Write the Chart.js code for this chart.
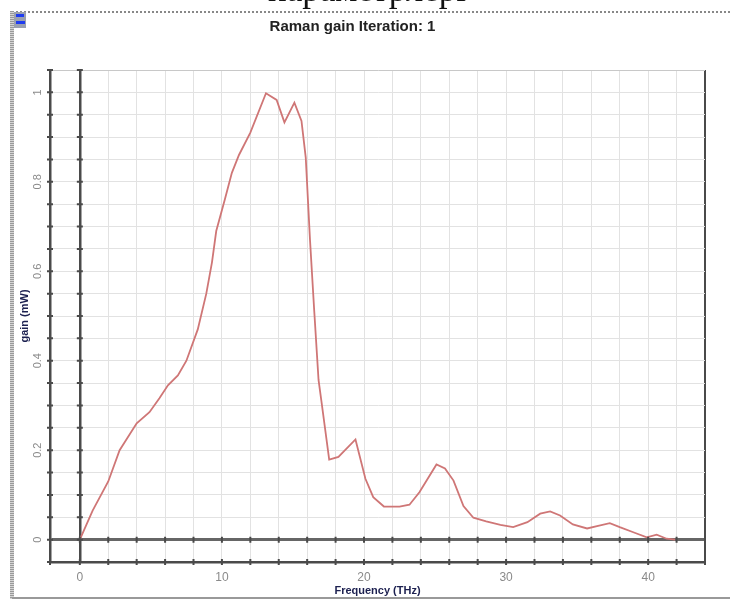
<!DOCTYPE html>
<html lang="en">
<head>
    <meta charset="UTF-8">
    <title>Raman gain</title>
    <script src="https://cdn.jsdelivr.net/npm/chart.js"></script>
    <style>
        body {
          margin: 0;
          background: #fff;
          font-family: Arial, "Liberation Sans", sans-serif;
        }
        .page {
          position: relative;
          width: 730px;
          height: 599px;
          overflow: hidden;
        }
        .chartBox {
          position: absolute;
          left: 0;
          top: 0;
          width: 730px;
          height: 599px;
        }
        /* cut-off caption above the screenshot */
        .caption {
          position: absolute;
          top: -30px;
          left: 268px;
          font-family: "Liberation Serif", "DejaVu Serif", serif;
          font-size: 35px;
          color: #111;
          white-space: nowrap;
        }
        .frameTop {
          position: absolute;
          left: 12px;
          top: 11px;
          width: 718px;
          height: 0;
          border-top: 2px dotted #888;
        }
        .frameLeft {
          position: absolute;
          left: 10px;
          top: 11px;
          width: 4px;
          height: 588px;
          background: repeating-linear-gradient(#999 0 1px, #d4d4d4 1px 2px);
        }
        .frameBottom {
          position: absolute;
          left: 12px;
          top: 597px;
          width: 718px;
          height: 2px;
          background: #999;
        }
        .icon {
          position: absolute;
          left: 14px;
          top: 12px;
          width: 12px;
          height: 16px;
          background: #9aa0b0;
        }
        .icon i {
          position: absolute;
          left: 2px;
          width: 8px;
          height: 3px;
          background: #1f3cf0;
        }
    </style>
</head>
<body>
<div class="page">
    <div class="chartBox"><canvas id="myChart"></canvas></div>
    <div class="caption">параметрлері</div>
    <div class="frameTop"></div>
    <div class="frameLeft"></div>
    <div class="frameBottom"></div>
    <div class="icon"><i style="top:2px"></i><i style="top:9px;width:9px"></i></div>
</div>

<script>
    // values
    const freq = [0, 0.9, 2.0, 2.8, 4.0, 4.9, 5.6, 6.2, 6.9, 7.5, 8.3, 8.9, 9.3, 9.6, 10.2, 10.7, 11.2, 12.0, 13.1, 13.85, 14.4, 15.1, 15.6, 15.9, 16.2, 16.5, 16.8, 17.0, 17.55, 18.2, 19.4, 20.1, 20.65, 21.4, 22.5, 23.2, 23.9, 25.1, 25.7, 26.3, 27.0, 27.7, 28.6, 29.6, 30.5, 31.5, 32.4, 33.1, 33.8, 34.7, 35.7, 36.4, 37.3, 38.0, 39.0, 39.9, 40.6, 41.3, 41.9];
    const gain = [0, 0.065, 0.13, 0.20, 0.26, 0.285, 0.316, 0.345, 0.367, 0.40, 0.47, 0.55, 0.62, 0.69, 0.76, 0.82, 0.86, 0.91, 0.998, 0.983, 0.933, 0.977, 0.936, 0.854, 0.67, 0.51, 0.357, 0.31, 0.179, 0.185, 0.224, 0.136, 0.095, 0.074, 0.074, 0.078, 0.106, 0.168, 0.159, 0.132, 0.075, 0.049, 0.041, 0.033, 0.028, 0.039, 0.058, 0.063, 0.054, 0.034, 0.025, 0.030, 0.037, 0.028, 0.016, 0.005, 0.011, 0.002, 0.0];

    const xLabels = [0, 10, 20, 30, 40];
    const yLabels = [0, 0.2, 0.4, 0.6, 0.8, 1];

    const points = freq.map((f, i) => ({ x: f, y: gain[i] }));

    const near = (a, b) => Math.abs(a - b) < 1e-6;
    const dark = '#4a4a4a';

    // small cross marks on the frame and on the zero lines
    const tickMarks = {
        id: 'tickMarks',
        afterDatasetsDraw(chart) {
            const { ctx, chartArea, scales } = chart;
            const x0 = scales.x.getPixelForValue(0);
            const y0 = scales.y.getPixelForValue(0);
            ctx.save();
            ctx.strokeStyle = dark;
            ctx.lineWidth = 2;
            ctx.beginPath();
            scales.x.ticks.forEach(t => {
                const px = scales.x.getPixelForValue(t.value);
                ctx.moveTo(px, chartArea.bottom - 3); ctx.lineTo(px, chartArea.bottom + 3);
                ctx.moveTo(px, y0 - 3); ctx.lineTo(px, y0 + 3);
            });
            scales.y.ticks.forEach(t => {
                const py = scales.y.getPixelForValue(t.value);
                ctx.moveTo(chartArea.left - 3, py); ctx.lineTo(chartArea.left + 3, py);
                ctx.moveTo(x0 - 3, py); ctx.lineTo(x0 + 3, py);
            });
            ctx.stroke();
            ctx.restore();
        }
    };

    const ctx = document.getElementById('myChart').getContext('2d');
    const myChart = new Chart(ctx, {
        type: 'scatter',
        data: {
            datasets: [{
                label: 'gain',
                data: points,
                showLine: true,
                borderColor: '#cf7676',
                borderWidth: 1.8,
                pointRadius: 0,
                tension: 0
            }]
        },
        options: {
            responsive: true,
            maintainAspectRatio: false,
            animation: false,
            layout: { padding: { left: 0, right: 25, top: 0, bottom: 0 } },
            plugins: {
                legend: { display: false },
                tooltip: { enabled: false },
                title: {
                    display: true,
                    text: 'Raman gain Iteration: 1',
                    color: '#222',
                    font: { family: 'Arial', size: 15, weight: 'bold' },
                    padding: { top: 18, bottom: 34 }
                }
            },
            scales: {
                x: {
                    type: 'linear',
                    min: -2.1,
                    max: 44,
                    afterFit(scale) { scale.height = 37; },
                    border: { display: true, color: dark, width: 2.5 },
                    grid: {
                        drawTicks: false,
                        color: c => (c.tick && near(c.tick.value, 0)) || (c.tick && near(c.tick.value, 44)) ? dark : '#e2e2e2',
                        lineWidth: c => c.tick && near(c.tick.value, 0) ? 2.5 : (c.tick && near(c.tick.value, 44) ? 2 : 1)
                    },
                    ticks: {
                        stepSize: 2,
                        padding: 8,
                        color: '#8a8a8a',
                        font: { family: 'Arial', size: 12 },
                        maxRotation: 0,
                        autoSkip: false,
                        callback: v => xLabels.some(l => near(l, v)) ? String(v) : ''
                    },
                    title: {
                        display: true,
                        text: 'Frequency (THz)',
                        color: '#1c2050',
                        font: { family: 'Arial', size: 11, weight: 'bold' },
                        padding: { top: 0, bottom: 1 }
                    }
                },
                y: {
                    min: -0.05,
                    max: 1.05,
                    afterFit(scale) { scale.width = 50; },
                    border: { display: true, color: dark, width: 2.5 },
                    grid: {
                        drawTicks: false,
                        color: c => c.tick && near(c.tick.value, 0) ? '#666' : (c.tick && near(c.tick.value, 1.05) ? '#c8c8c8' : '#e2e2e2'),
                        lineWidth: c => c.tick && near(c.tick.value, 0) ? 3 : 1
                    },
                    ticks: {
                        stepSize: 0.05,
                        padding: 4,
                        crossAlign: 'center',
                        minRotation: 90,
                        maxRotation: 90,
                        color: '#8a8a8a',
                        font: { family: 'Arial', size: 11 },
                        autoSkip: false,
                        callback: v => {
                            const hit = yLabels.find(l => near(l, v));
                            return hit === undefined ? '' : String(hit);
                        }
                    },
                    title: {
                        display: true,
                        text: 'gain (mW)',
                        color: '#1c2050',
                        font: { family: 'Arial', size: 11, weight: 'bold' },
                        padding: { top: 18, bottom: 0 }
                    }
                }
            }
        },
        plugins: [tickMarks]
    });
</script>
</body>
</html>
